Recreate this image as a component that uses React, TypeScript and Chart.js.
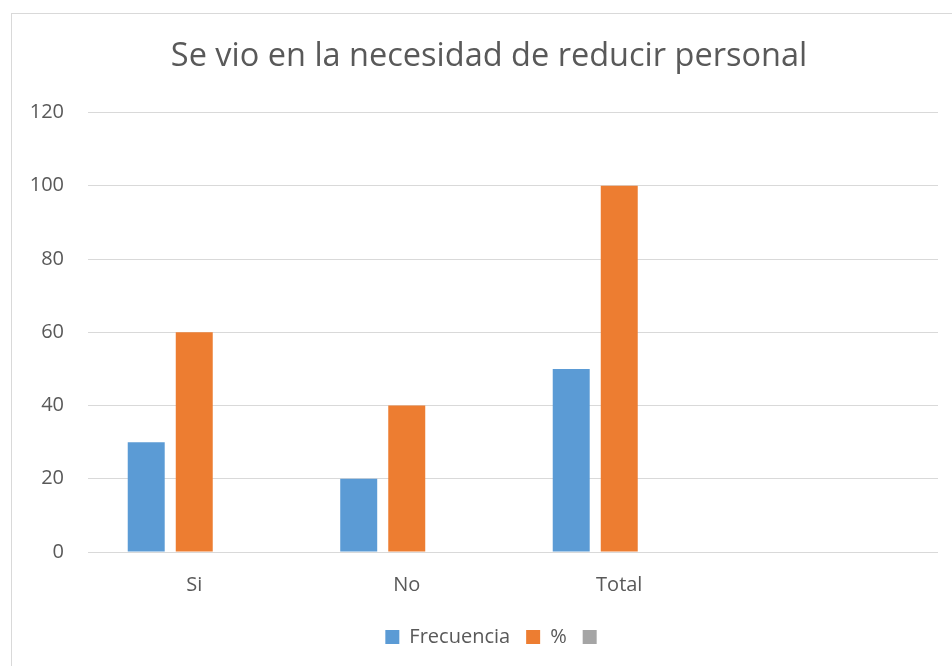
import React, { useEffect, useRef } from "react";
import { Chart, registerables } from "chart.js";

Chart.register(...registerables);

const TITLE = "Se vio en la necesidad de reducir personal";
const categories = ["Si", "No", "Total", ""];
const frecuencia = [30, 20, 50, null];
const porcentaje = [60, 40, 100, null];
const tercera = [null, null, null, null];
const yTicks = [0, 20, 40, 60, 80, 100, 120];

const TEXT = "#595959";
const GRID = "#D9D9D9";
const FONT = "'Open Sans', 'Noto Sans', sans-serif";

const W = 1000;
const H = 700;

const framePlugin = {
  id: "frame",
  beforeDraw(chart: any) {
    const ctx = chart.ctx;
    ctx.save();
    ctx.fillStyle = "#ffffff";
    ctx.fillRect(0, 0, chart.width, chart.height);
    ctx.strokeStyle = GRID;
    ctx.lineWidth = 1;
    ctx.strokeRect(11.5, 13.5, 955, 720);
    ctx.restore();
  },
  afterLayout(chart: any) {
    // widen the y-axis label area to the left so "120" is not clipped
    if (chart.scales.y) chart.scales.y.left = 14;
    // nudge the legend slightly right to sit under the title as in the reference
    if (chart.legend) {
      chart.legend.left += 7;
      chart.legend.right += 7;
    }
  },
};

export default function App() {
  const ref = useRef<HTMLCanvasElement>(null);

  useEffect(() => {
    if (!ref.current) return;
    const chart = new Chart(ref.current, {
      type: "bar",
      data: {
        labels: categories,
        datasets: [
          { label: "Frecuencia", data: frecuencia, backgroundColor: "#5B9BD5" },
          { label: "%", data: porcentaje, backgroundColor: "#ED7D31" },
          { label: "", data: tercera, backgroundColor: "#A5A5A5" },
        ],
      },
      options: {
        responsive: false,
        animation: false,
        devicePixelRatio: 1,
        layout: { padding: { left: 40, right: W - 938, top: 0, bottom: 43 } },
        datasets: {
          bar: { categoryPercentage: 0.678, barPercentage: 0.77 },
        },
        plugins: {
          title: {
            display: true,
            text: TITLE,
            color: TEXT,
            font: { family: FONT, size: 32.5, weight: "normal", lineHeight: 1.2 },
            padding: { top: 37.5, bottom: 36 },
          },
          legend: {
            position: "bottom",
            labels: {
              color: TEXT,
              boxWidth: 14,
              boxHeight: 14,
              padding: 16,
              font: { family: FONT, size: 20 },
            },
          },
          tooltip: { enabled: false },
        },
        scales: {
          x: {
            grid: { display: false, drawTicks: false },
            border: { display: false },
            ticks: { color: TEXT, padding: 21, font: { family: FONT, size: 20 } },
            afterFit(scale: any) {
              scale.height = 59;
            },
          },
          y: {
            min: 0,
            max: 120,
            afterBuildTicks(scale: any) {
              scale.ticks = yTicks.map((v) => ({ value: v }));
            },
            grid: { color: GRID, lineWidth: 1, drawTicks: false },
            border: { display: false },
            ticks: { color: TEXT, padding: 24, font: { family: FONT, size: 20 } },
            afterFit(scale: any) {
              scale.width = 48;
            },
          },
        },
      },
      plugins: [framePlugin],
    });
    return () => chart.destroy();
  }, []);

  return (
    <div
      style={{
        position: "fixed",
        left: 0,
        top: 0,
        width: 952,
        height: 666,
        overflow: "hidden",
        background: "#fff",
      }}
    >
      <canvas ref={ref} width={W} height={H} style={{ display: "block", width: W, height: H }} />
    </div>
  );
}
